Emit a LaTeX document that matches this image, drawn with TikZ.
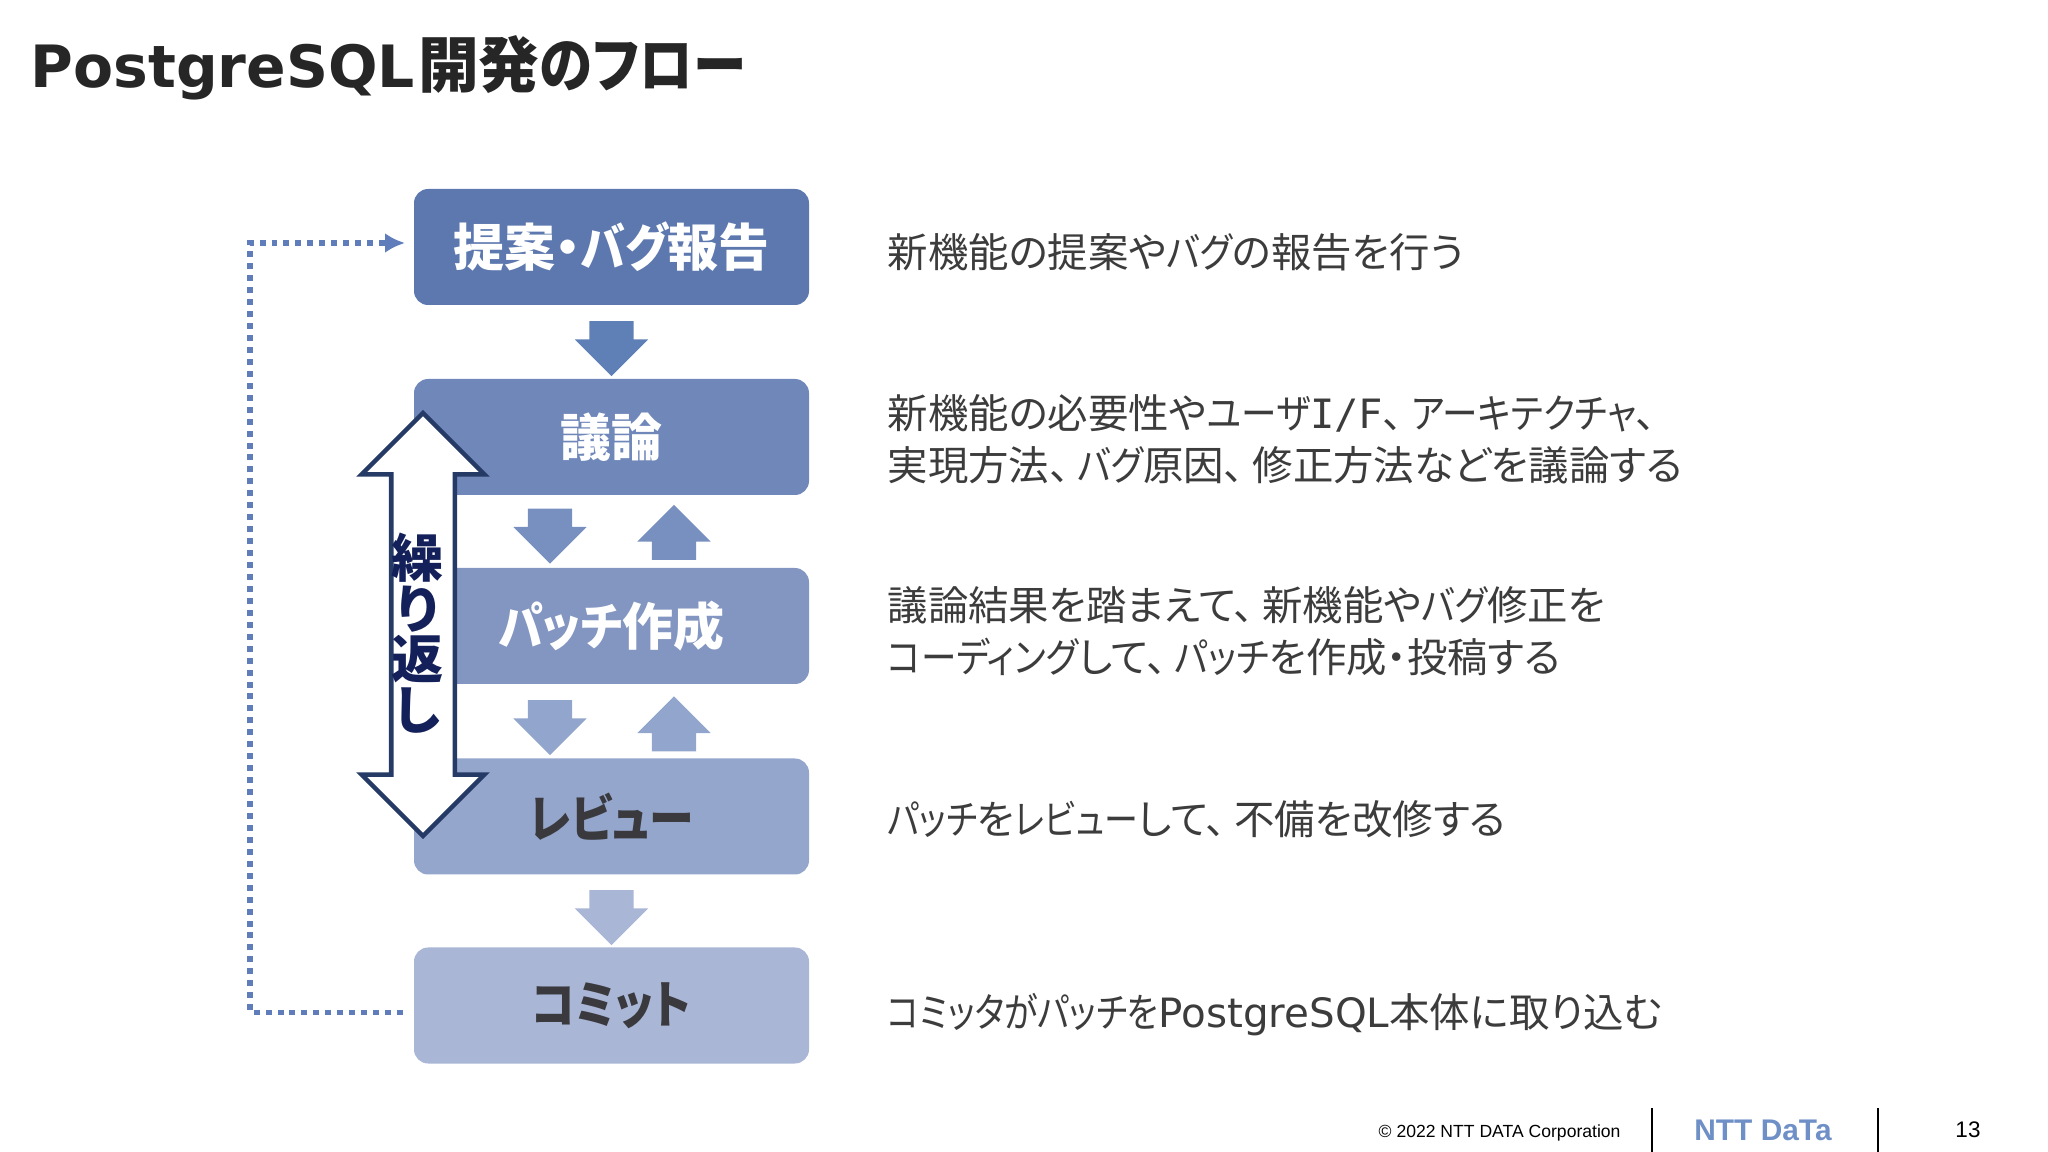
\documentclass[tikz,border=0pt]{standalone}
\usepackage{xcolor}
\usepackage{fontspec}
\setmainfont[RawFeature=+palt]{Noto Sans CJK JP}
\newfontfamily\kanafont[RawFeature=+palt,FakeStretch=0.88]{Noto Sans CJK JP}
\newfontfamily\tightfont[RawFeature=+palt,FakeStretch=0.84]{Noto Sans CJK JP}
\newfontfamily\latinfont{DejaVu Sans}
\newfontfamily\tagfont{DejaVu Sans Mono}
\newfontfamily\footfont{Liberation Sans}
\newcommand{\kn}[1]{{\kanafont #1}}
\newcommand{\tk}[1]{{\tightfont #1}}
\newcommand{\lt}[1]{{\latinfont #1}}
\newcommand{\tou}{、\hspace{0.2em}}
\usetikzlibrary{shapes.arrows, arrows.meta, positioning}
\definecolor{titlecolor}{RGB}{38,38,38}
\definecolor{bodytext}{RGB}{60,60,60}
\definecolor{darktext}{RGB}{58,58,62}
\definecolor{stepa}{RGB}{92,120,174}
\definecolor{stepb}{RGB}{111,135,185}
\definecolor{stepc}{RGB}{130,150,193}
\definecolor{stepd}{RGB}{148,166,204}
\definecolor{stepe}{RGB}{169,182,214}
\definecolor{arrowa}{RGB}{95,128,182}
\definecolor{arrowb}{RGB}{119,144,192}
\definecolor{arrowc}{RGB}{146,165,205}
\definecolor{arrowd}{RGB}{169,182,214}
\definecolor{loopcolor}{RGB}{38,58,102}
\definecolor{loopink}{RGB}{20,32,90}
\definecolor{dotcolor}{RGB}{95,125,187}
\definecolor{logocolor}{RGB}{111,143,199}

\begin{document}
\begin{tikzpicture}[
    stepbox/.style={fill=#1, minimum width=3.95cm, minimum height=1.16cm, rounded corners=4pt, inner sep=0pt, outer sep=0pt, font=\fontsize{14.5}{16}\selectfont\bfseries, align=center},
    desc/.style={anchor=west, inner sep=0pt, font=\fontsize{11.5}{14.8}\selectfont, align=left, text=bodytext},
    downarrow/.style={shape=single arrow, fill=#1, rotate=-90, minimum height=0.55cm, minimum width=0.72cm, text height=0.43cm, text depth=0pt, single arrow head extend=0.145cm, inner sep=0pt, outer sep=0pt},
    uparrow/.style={downarrow=#1, rotate=180},
    footer/.style={inner sep=0pt, text=black, font=\footfont\fontsize{5}{6.5}\selectfont}
]
    \useasboundingbox (0,0) rectangle (20.48,-11.52);
    \node[anchor=west, inner sep=0pt, text=titlecolor, font=\fontsize{17.3}{20}\selectfont\bfseries] (title) at (0.30,-0.68) {{\latinfont\fontsize{16.6}{20}\selectfont PostgreSQL}\hspace{0.03cm}開発\kn{のフロー}};

    % Steps
    \node[stepbox=stepa, text=white] (propose) at (6.115,-2.47) {提案・\kn{バグ}報告};
    \node[stepbox=stepb, text=white] (discuss) at (6.115,-4.37) {議論};
    \node[stepbox=stepc, text=white] (patch) at (6.115,-6.26) {\kn{パッチ}作成};
    \node[stepbox=stepd, text=darktext] (review) at (6.115,-8.165) {\kn{レビュー}};
    \node[stepbox=stepe, text=darktext] (commit) at (6.115,-10.055) {\kn{コミット}};

    % Block arrows between steps
    \node[downarrow=arrowa] (pd) at (6.115,-3.375) {};
    \node[downarrow=arrowb] (dpa) at (5.50,-5.25) {};
    \node[uparrow=arrowb] (pda) at (6.74,-5.435) {};
    \node[downarrow=arrowc] (prb) at (5.50,-7.165) {};
    \node[uparrow=arrowc] (rpb) at (6.74,-7.35) {};
    \node[downarrow=arrowd] (rc) at (6.115,-9.065) {};

    % Repeat arrow
    \node[shape=double arrow, draw=loopcolor, line width=1.3pt, fill=white, rotate=90, minimum height=4.23cm, minimum width=1.18cm, text height=0.59cm, text depth=0pt, double arrow head extend=0.295cm, inner sep=0pt, outer sep=0pt] (repeat) at (4.23,-6.245) {};
    \node[inner sep=0pt, text=loopink, align=center, font=\fontsize{14.8}{14.4}\selectfont\bfseries] (repeatlabel) at (4.18,-6.33) {繰\\り\\返\\し};

    % Return line
    \coordinate (loopstart) at ([xshift=-0.11cm,yshift=-0.07cm]commit.west);
    \coordinate (loopend) at ([xshift=-0.09cm,yshift=0.04cm]propose.west);
    \draw[dotcolor, line width=1.7pt, dash pattern=on 1.7pt off 1.7pt, -{Latex[length=0.2cm,width=0.2cm]}] (loopstart) -- ++(-1.53,0) |- (loopend);

    % Descriptions
    \node[desc] (d1) at (8.87,-2.52) {新機能の提案や\kn{バグ}の報告を行う};
    \node[desc] (d2) at (8.87,-4.39) {新機能の必要性や\kn{ユーザ}{\tagfont I/F}\tou\kn{アーキテクチャ}\tou\\実現方法\tou\kn{バグ}原因\tou 修正方法などを議論する};
    \node[desc] (d3) at (8.87,-6.31) {議論結果を踏まえて\tou 新機能や\kn{バグ}修正を\\\kn{コーディング}して\tou\kn{パッチ}を作成・投稿する};
    \node[desc] (d4) at (8.87,-8.19) {\tk{パッチ}を\tk{レビュー}して\tou 不備を改修する};
    \node[desc] (d5) at (8.87,-10.15) {\tk{コミッタがパッチを}\lt{PostgreSQL}本体に取り込む};

    % Footer
    \node[footer, anchor=west] (copyright) at (13.78,-11.33) {© 2022 NTT DATA Corporation};
    \coordinate (rulea) at (16.52,-11.08);
    \coordinate (ruleb) at (18.78,-11.08);
    \draw[black, line width=0.5pt] (rulea) -- ++(0,-0.44);
    \draw[black, line width=0.5pt] (ruleb) -- ++(0,-0.44);
    \node[inner sep=0pt, text=logocolor, font=\footfont\fontsize{8.5}{9}\selectfont\bfseries] (logo) at (17.63,-11.30) {NTT DaTa};
    \node[footer, font=\footfont\fontsize{6.4}{8}\selectfont] (pageno) at (19.68,-11.30) {13};
\end{tikzpicture}
\end{document}
